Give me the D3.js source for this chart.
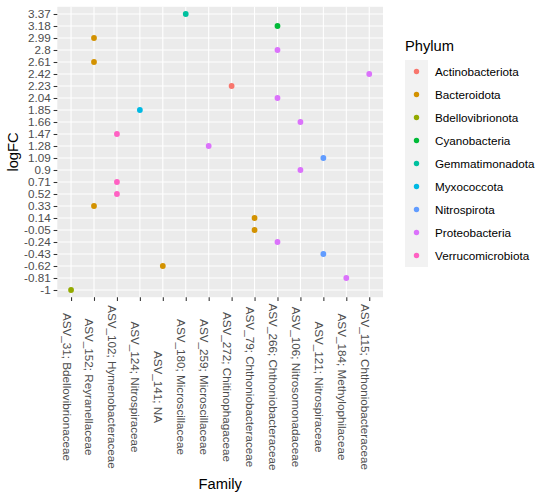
<!DOCTYPE html>
<html>
<head>
<meta charset="utf-8">
<script src="https://cdn.jsdelivr.net/npm/d3@7"></script>
<style>
  body { margin: 0; background: #fff; }
  text { font-family: "Liberation Sans", Arial, Helvetica, sans-serif; }
</style>
</head>
<body>
<svg id="chart" width="550" height="500"></svg>
<script>
// ---- data ----
const families = [
  "ASV_31; Bdellovibrionaceae",
  "ASV_152; Reyranellaceae",
  "ASV_102; Hymenobacteraceae",
  "ASV_124; Nitrospiraceae",
  "ASV_141; NA",
  "ASV_180; Microscillaceae",
  "ASV_259; Microscillaceae",
  "ASV_272; Chitinophagaceae",
  "ASV_79; Chthoniobacteraceae",
  "ASV_266; Chthoniobacteraceae",
  "ASV_106; Nitrosomonadaceae",
  "ASV_121; Nitrospiraceae",
  "ASV_184; Methylophilaceae",
  "ASV_115; Chthoniobacteraceae"
];
const yTickLabels = ["-1","-0.81","-0.62","-0.43","-0.24","-0.05","0.14","0.33","0.52","0.71","0.9","1.09","1.28","1.47","1.66","1.85","2.04","2.23","2.42","2.61","2.8","2.99","3.18","3.37"];
const phyla = ["Actinobacteriota","Bacteroidota","Bdellovibrionota","Cyanobacteria","Gemmatimonadota","Myxococcota","Nitrospirota","Proteobacteria","Verrucomicrobiota"];
const phylumColors = ["#F8766D","#D39200","#93AA00","#00BA38","#00C19F","#00B9E3","#619CFF","#DB72FB","#FF61C3"];

// each point: family, logFC, phylum
const pointFamily = [
  "ASV_31; Bdellovibrionaceae",
  "ASV_152; Reyranellaceae","ASV_152; Reyranellaceae","ASV_152; Reyranellaceae",
  "ASV_102; Hymenobacteraceae","ASV_102; Hymenobacteraceae","ASV_102; Hymenobacteraceae",
  "ASV_124; Nitrospiraceae",
  "ASV_141; NA",
  "ASV_180; Microscillaceae",
  "ASV_259; Microscillaceae",
  "ASV_272; Chitinophagaceae",
  "ASV_79; Chthoniobacteraceae","ASV_79; Chthoniobacteraceae",
  "ASV_266; Chthoniobacteraceae","ASV_266; Chthoniobacteraceae","ASV_266; Chthoniobacteraceae","ASV_266; Chthoniobacteraceae",
  "ASV_106; Nitrosomonadaceae","ASV_106; Nitrosomonadaceae",
  "ASV_121; Nitrospiraceae","ASV_121; Nitrospiraceae",
  "ASV_184; Methylophilaceae",
  "ASV_115; Chthoniobacteraceae"
];
const pointLogFC = [
  -1,
  2.99, 2.61, 0.33,
  1.47, 0.71, 0.52,
  1.85,
  -0.62,
  3.37,
  1.28,
  2.23,
  0.14, -0.05,
  3.18, 2.8, 2.04, -0.24,
  1.66, 0.9,
  1.09, -0.43,
  -0.81,
  2.42
];
const pointPhylum = [
  "Bdellovibrionota",
  "Bacteroidota","Bacteroidota","Bacteroidota",
  "Verrucomicrobiota","Verrucomicrobiota","Verrucomicrobiota",
  "Myxococcota",
  "Bacteroidota",
  "Gemmatimonadota",
  "Proteobacteria",
  "Actinobacteriota",
  "Bacteroidota","Bacteroidota",
  "Cyanobacteria","Proteobacteria","Proteobacteria","Proteobacteria",
  "Proteobacteria","Proteobacteria",
  "Nitrospirota","Nitrospirota",
  "Proteobacteria",
  "Proteobacteria"
];

// ---- layout ----
const svg = d3.select("#chart");
const panel = { left: 57.3, right: 383, top: 6.8, bottom: 297.2 };

const x = d3.scalePoint().domain(families).range([panel.left, panel.right]).padding(0.6);
const y = d3.scalePoint().domain(yTickLabels).range([panel.bottom, panel.top]).padding(0.6);
const color = d3.scaleOrdinal().domain(phyla).range(phylumColors);

// panel background
svg.append("rect")
  .attr("x", panel.left).attr("y", panel.top)
  .attr("width", panel.right - panel.left).attr("height", panel.bottom - panel.top)
  .attr("fill", "#EBEBEB");

// grid lines
const grid = svg.append("g");
grid.selectAll("line.h").data(yTickLabels).join("line")
  .attr("x1", panel.left).attr("x2", panel.right)
  .attr("y1", d => y(d)).attr("y2", d => y(d))
  .attr("stroke", "#fff").attr("stroke-width", 1.07);
grid.selectAll("line.v").data(families).join("line")
  .attr("y1", panel.top).attr("y2", panel.bottom)
  .attr("x1", d => x(d)).attr("x2", d => x(d))
  .attr("stroke", "#fff").attr("stroke-width", 1.07);

// y axis
const yAxis = d3.axisLeft(y).tickSize(3.7).tickPadding(2.9);
const gy = svg.append("g").attr("transform", `translate(${panel.left},0)`).call(yAxis);
gy.select(".domain").remove();
gy.selectAll(".tick line").attr("stroke", "#333333").attr("stroke-width", 1.07);
gy.selectAll(".tick text").attr("fill", "#4D4D4D").attr("font-size", "11.7px")
  .attr("font-family", "Liberation Sans, Arial, sans-serif");

// x axis
const xAxis = d3.axisBottom(x).tickSize(3.7);
const gx = svg.append("g").attr("transform", `translate(0,${panel.bottom})`).call(xAxis);
gx.select(".domain").remove();
gx.selectAll(".tick line").attr("stroke", "#333333").attr("stroke-width", 1.07);
gx.selectAll(".tick text")
  .attr("fill", "#4D4D4D").attr("font-size", "11.7px")
  .attr("font-family", "Liberation Sans, Arial, sans-serif")
  .attr("text-anchor", "middle")
  .attr("dy", null)
  .attr("x", 0)
  .attr("y", 0)
  .attr("transform", `translate(0,${387 - panel.bottom}) rotate(90) translate(0,9)`);

// points
const pts = pointFamily.map((f, i) => ({ f, v: pointLogFC[i], p: pointPhylum[i] }));
svg.append("g").selectAll("circle").data(pts).join("circle")
  .attr("cx", d => x(d.f))
  .attr("cy", d => y(String(d.v)))
  .attr("r", 2.9)
  .attr("fill", d => color(d.p));

// axis titles
svg.append("text")
  .attr("x", (panel.left + panel.right) / 2).attr("y", 489)
  .attr("text-anchor", "middle").attr("font-size", "14.7px").attr("fill", "#000")
  .text("Family");
svg.append("text")
  .attr("transform", `translate(18,${(panel.top + panel.bottom) / 2}) rotate(-90)`)
  .attr("text-anchor", "middle").attr("font-size", "14.7px").attr("fill", "#000")
  .text("logFC");

// legend
const lg = svg.append("g");
lg.append("text").attr("x", 405).attr("y", 51).attr("font-size", "14.7px").attr("fill", "#000").text("Phylum");
const keyTop = 60, keySize = 23;
const items = lg.selectAll("g.item").data(phyla).join("g")
  .attr("transform", (d, i) => `translate(405,${keyTop + i * keySize})`);
items.append("rect").attr("width", keySize).attr("height", keySize).attr("fill", "#F2F2F2");
items.append("circle").attr("cx", keySize / 2).attr("cy", keySize / 2).attr("r", 2.7)
  .attr("fill", d => color(d));
items.append("text").attr("x", 30).attr("y", keySize / 2).attr("dy", "0.35em")
  .attr("font-size", "11.7px").attr("fill", "#000").text(d => d);
</script>
</body>
</html>
